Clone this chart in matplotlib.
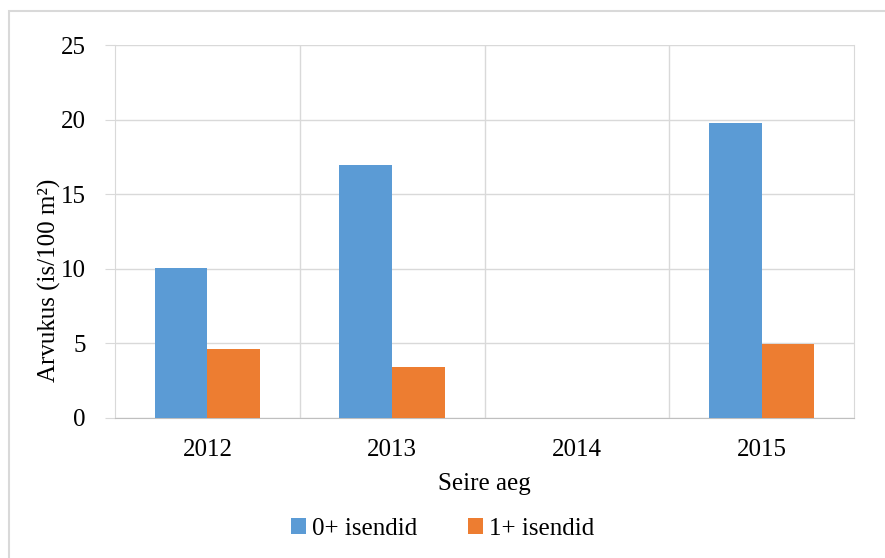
import matplotlib.pyplot as plt
import numpy as np
from matplotlib.patches import Rectangle

years = ['2012', '2013', '2014', '2015']
juveniles = [10.05, 16.95, 0, 19.8]   # 0+ isendid
older = [4.6, 3.45, 0, 4.95]          # 1+ isendid

plt.rcParams['font.family'] = ['Liberation Serif', 'DejaVu Serif']
fs = 18

fig = plt.figure(figsize=(8.85, 5.58), dpi=100)
ax = fig.add_axes([115 / 885, 1 - 418 / 558, 739 / 885, 373 / 558])

# light frame round the chart, running past the right and bottom edges
fig.patches.append(Rectangle((9 / 885, -0.05), 1.0, 1 - 11 / 558 + 0.05,
                             transform=fig.transFigure, fill=False,
                             edgecolor='#D9D9D9', linewidth=1.5))

x = np.arange(len(years))
w = 0.285
ax.bar(x - w / 2, juveniles, w, color='#5B9BD5', label='0+ isendid', zorder=3)
ax.bar(x + w / 2, older, w, color='#ED7D31', label='1+ isendid', zorder=3)

ax.set_xlim(-0.5, 3.5)
ax.set_ylim(0, 25)
ax.set_yticks(range(0, 26, 5))
ax.set_xticks(x)
ax.set_xticklabels(years)

grid_c = '#D9D9D9'
ax.grid(axis='y', color=grid_c, linewidth=1, zorder=0)
for b in [0.5, 1.5, 2.5]:
    ax.axvline(b, color=grid_c, linewidth=1, zorder=0)

ax.spines['top'].set_visible(False)
ax.spines['left'].set_color(grid_c)
ax.spines['right'].set_color(grid_c)
ax.spines['bottom'].set_color('#BFBFBF')

ax.tick_params(axis='y', length=7, color=grid_c, labelsize=fs, pad=14)
ax.tick_params(axis='x', length=0, labelsize=fs, pad=15)

ax.set_xlabel('Seire aeg', fontsize=fs, labelpad=9)
ax.set_ylabel('Arvukus (is/100 m²)', fontsize=fs)
ax.yaxis.set_label_coords(-0.073, 0.37)

fig.legend(loc='center', bbox_to_anchor=(0.5, 1 - 529 / 558), ncol=2,
           frameon=False, fontsize=fs, handlelength=0.6, handleheight=0.6,
           handletextpad=0.25, columnspacing=2.0)

fig.savefig('out.png', dpi=100)
